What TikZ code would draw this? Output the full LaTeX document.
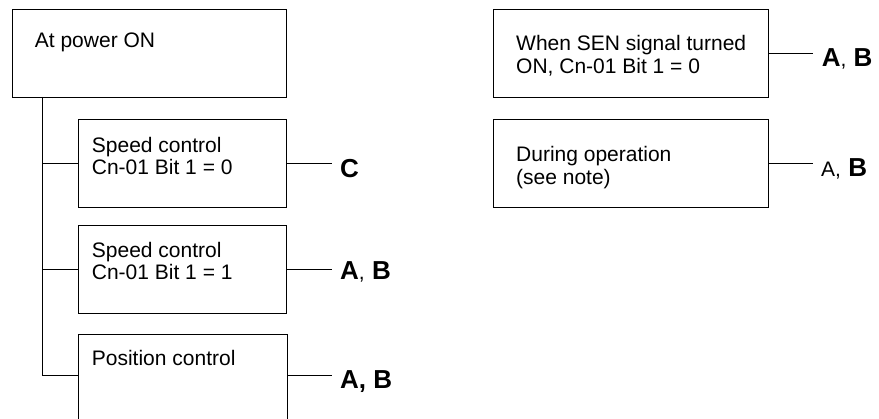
\documentclass[tikz,border=0pt]{standalone}
\usepackage{fontspec}
\setmainfont{Liberation Sans}
\begin{document}
\begin{tikzpicture}[x=1pt,y=-1pt,
  box/.style={draw, line width=1pt, rectangle, inner sep=0pt, anchor=north west},
  txt/.style={anchor=base west, inner sep=0pt, font=\fontsize{21}{22.7}\selectfont, align=left},
  lbl/.style={anchor=base west, inner sep=0pt, font=\fontsize{26}{26}\selectfont\bfseries},
  con/.style={line width=1pt}]
\useasboundingbox (0,0) rectangle (879,419);
\clip (0,0) rectangle (879,419);
\newcommand{\smcomma}{{\mdseries\fontsize{21}{21}\selectfont,}}
% boxes
\node[box, minimum width=274pt, minimum height=87.7pt] (pon) at (12,9.3) {};
\node[box, minimum width=207.7pt, minimum height=87.7pt] (b2) at (78.3,119.3) {};
\node[box, minimum width=207.7pt, minimum height=87.7pt] (b3) at (78.3,225.3) {};
\node[box, draw=none, minimum width=207.7pt, minimum height=82pt] (b4) at (78.3,334.3) {};
\draw[con] ([yshift=-20pt]b4.south west) -- (b4.north west) -- (b4.north east) -- ([yshift=-20pt]b4.south east);
\node[box, minimum width=274.4pt, minimum height=87.7pt] (b5) at (493.3,9.3) {};
\node[box, minimum width=274.4pt, minimum height=87.7pt] (b6) at (493.3,119.3) {};
% texts (base = baseline of last line)
\node[txt] (t1) at (34.7,47.7) {At power ON};
\node[txt] (t2) at (91.7,175) {Speed control\\Cn-01 Bit 1 = 0};
\node[txt] (t3) at (91.7,280) {Speed control\\Cn-01 Bit 1 = 1};
\node[txt] (t4) at (91.7,366) {Position control};
\node[txt] (t5) at (516,73.7) {When SEN signal turned\\ON, Cn-01 Bit 1 = 0};
\node[txt] (t6) at (516,184.7) {During operation\\(see note)};
% labels
\node[lbl] (l2) at (340,177.7) {C};
\node[lbl] (l3) at (340,280) {A\smcomma{} B};
\node[lbl] (l4) at (340,389) {A, B};
\node[lbl] (l5) at (821.7,67) {A\smcomma{} B};
\node[lbl] (l6) at (821,176.7) {{\mdseries\fontsize{21}{21}\selectfont A,} B};
% trunk
\coordinate (t0) at (42.7,97);
\draw[con] (t0) |- (b4.west);
\draw[con] (t0 |- b2.west) -- (b2.west);
\draw[con] (t0 |- b3.west) -- (b3.west);
% right connectors
\draw[con] (b2.east) -- ([xshift=-7.7pt]b2.east -| l2.west);
\draw[con] (b3.east) -- ([xshift=-7.7pt]b3.east -| l3.west);
\draw[con] (b4.east) -- ([xshift=-7.7pt]b4.east -| l4.west);
\draw[con] (b5.east) -- ([xshift=-8.4pt]b5.east -| l5.west);
\draw[con] (b6.east) -- ([xshift=-7.7pt]b6.east -| l6.west);
\end{tikzpicture}
\end{document}
